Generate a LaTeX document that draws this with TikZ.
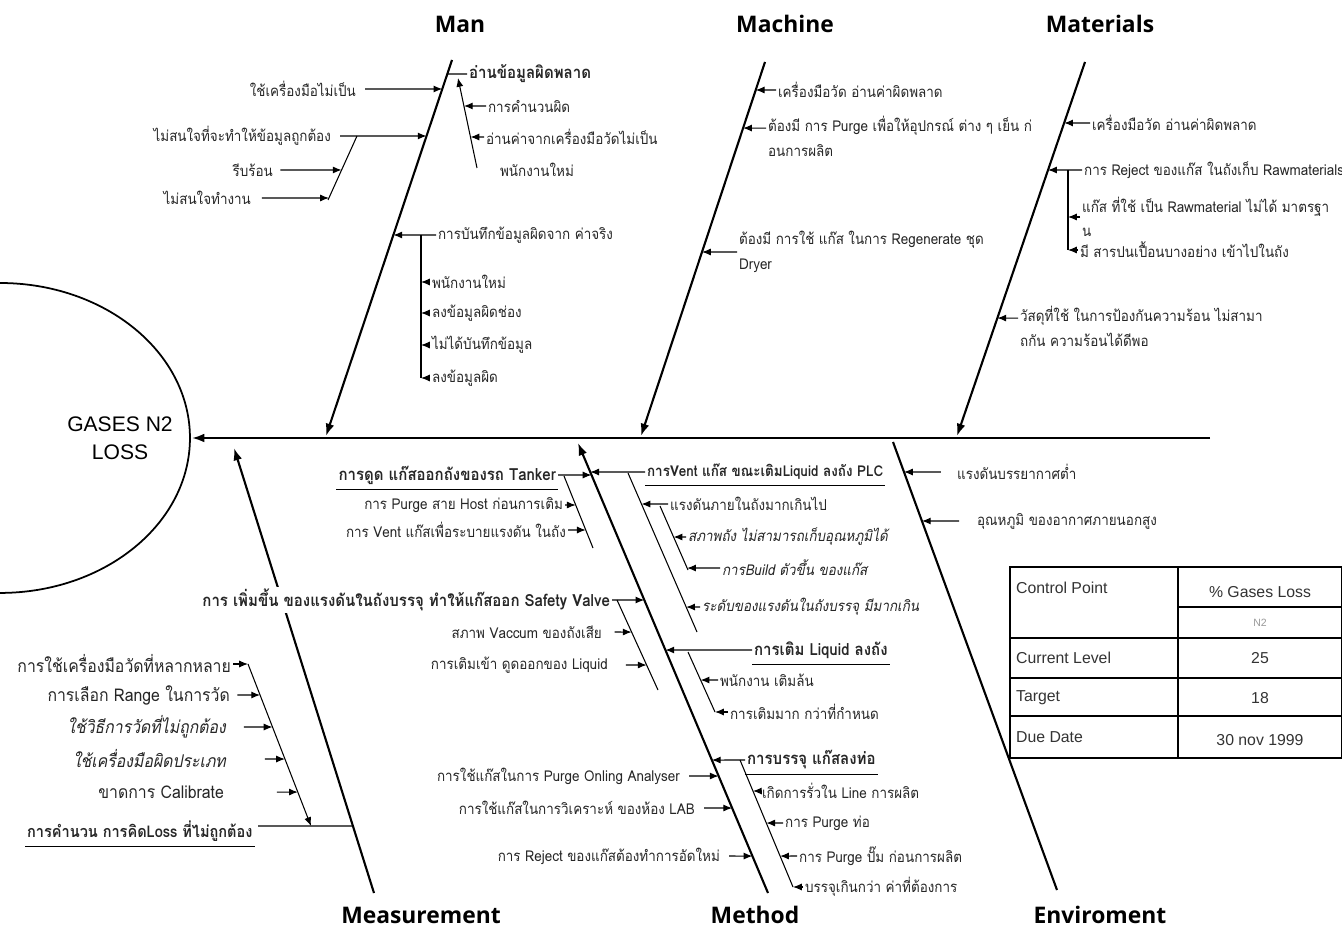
\documentclass[tikz,border=0pt]{standalone}
\usepackage{fontspec}
\setmainfont[Script=Thai,FakeStretch=0.9]{Loma}
\newfontfamily\titlefont{Open Sans}
\newfontfamily\arialfont{Liberation Sans}
\usetikzlibrary{arrows.meta}

\begin{document}
\begin{tikzpicture}[x=0.02cm, y=-0.02cm,
  cause/.style={font=\fontsize{8.5}{14}\selectfont, inner sep=1pt, text=black!85},
  bcause/.style={cause, font=\fontsize{9.5}{14}\selectfont\bfseries},
  icause/.style={cause, font=\fontsize{8.5}{14}\selectfont\itshape},
  mcause/.style={cause, font=\fontsize{10}{14}\selectfont},
  imcause/.style={cause, font=\fontsize{10}{14}\selectfont\itshape},
  bone/.style={line width=1.2pt},
  bonearr/.style={bone, -{Latex[length=7pt,width=5pt]}},
  twig/.style={line width=0.6pt},
  arr/.style={twig, -{Latex[length=5pt,width=4pt]}},
  bonetitle/.style={font=\titlefont\fontsize{13}{15}\selectfont\bfseries},
  cell/.style={font=\arialfont\fontsize{9}{11}\selectfont, text=black!80, inner sep=1pt}]

\useasboundingbox (0,0) rectangle (1342,928);

% Head
\draw[line width=1pt] (0,283) arc[start angle=90, end angle=-90, x radius=3.8cm, y radius=3.1cm];
\node[font=\arialfont\fontsize{12}{16}\selectfont, align=center] (effect) at (120,438) {GASES N2\\LOSS};

% Spine
\coordinate (tail) at (1210,438);
\coordinate (head) at (192,438);
\draw[bonearr] (tail) -- (head);

% Titles
\node[bonetitle] (man) at (460,24) {Man};
\node[bonetitle] (machine) at (785,24) {Machine};
\node[bonetitle] (materials) at (1100,24) {Materials};
\node[bonetitle] (measurement) at (421,915) {Measurement};
\node[bonetitle] (method) at (755,915) {Method};
\node[bonetitle] (enviroment) at (1100,915) {Enviroment};

% Man bone
\coordinate (manT) at (452,60);
\coordinate (manB) at (326,436);
\draw[bonearr] (manT) -- (manB);

\node[cause, anchor=east] (m1) at (358,89) {ใช้เครื่องมือไม่เป็น};
\draw[arr, shorten <=4pt] (m1.east) -- (intersection of manT--manB and m1.east--m1.west);
\node[cause, anchor=east] (m2) at (333,136) {ไม่สนใจที่จะทำให้ข้อมูลถูกต้อง};
\draw[arr, shorten <=4pt] (m2.east) -- (intersection of manT--manB and m2.east--m2.west);
\coordinate (m2T) at (357,136);
\coordinate (m2B) at (328,200);
\draw[twig] (m2T) -- (m2B);
\node[cause, anchor=east] (m3) at (275,170) {รีบร้อน};
\draw[arr, shorten <=3pt] (m3.east) -- (intersection of m2T--m2B and m3.east--m3.west);
\node[cause, anchor=east] (m4) at (253,198) {ไม่สนใจทำงาน};
\draw[arr, shorten <=5pt] (m4.east) -- (intersection of m2T--m2B and m4.east--m4.west);

\node[bcause, anchor=west] (m5) at (467,74) {อ่านข้อมูลผิดพลาด};
\draw[twig] (intersection of manT--manB and m5.west--m5.east) -- (m5.west);
\coordinate (m5T) at (458,78);
\coordinate (m5B) at (477,168);
\draw[arr] (m5B) -- (m5T);
\node[cause, anchor=west] (m6) at (486,106) {การคำนวนผิด};
\draw[arr] (m6.west) -- (intersection of m5T--m5B and m6.west--m6.east);
\node[cause, anchor=west] (m7) at (484,137) {อ่านค่าจากเครื่องมือวัดไม่เป็น};
\draw[arr] (m7.west) -- (intersection of m5T--m5B and m7.west--m7.east);
\node[cause, anchor=west] (m8) at (498,170) {พนักงานใหม่};

\node[cause, anchor=west] (m9) at (436,235) {การบันทึกข้อมูลผิดจาก ค่าจริง};
\draw[arr] (m9.west) -- (intersection of manT--manB and m9.west--m9.east);
\coordinate (m9T) at (421,235);
\coordinate (m9B) at (421,378);
\draw[twig] (m9T) -- (m9B);
\node[cause, anchor=west] (m10) at (430,282) {พนักงานใหม่};
\node[cause, anchor=west] (m11) at (430,313) {ลงข้อมูลผิดช่อง};
\node[cause, anchor=west] (m12) at (430,345) {ไม่ได้บันทึกข้อมูล};
\node[cause, anchor=west] (m13) at (430,378) {ลงข้อมูลผิด};
\foreach \c in {m10,m11,m12,m13}
  \draw[arr] (\c.west) -- (\c.west -| m9T);

% Machine bone
\coordinate (macT) at (765,62);
\coordinate (macB) at (641,436);
\draw[bonearr] (macT) -- (macB);

\node[cause, anchor=west] (c1) at (776,90) {เครื่องมือวัด อ่านค่าผิดพลาด};
\draw[arr] (c1.west) -- (intersection of macT--macB and c1.west--c1.east);
\node[cause, anchor=north west, align=left] (c2) at (766,114) {ต้องมี การ Purge เพื่อให้อุปกรณ์ ต่าง ๆ เย็น ก่\\อนการผลิต};
\coordinate (c2a) at ([yshift=-8pt]c2.north west);
\coordinate (c2b) at ([yshift=-8pt]c2.north east);
\draw[arr] (c2a) -- (intersection of macT--macB and c2a--c2b);
\node[cause, anchor=west, align=left] (c3) at (737,252) {ต้องมี การใช้ แก๊ส ในการ Regenerate ชุด\\Dryer};
\draw[arr] (c3.west) -- (intersection of macT--macB and c3.west--c3.east);

% Materials bone
\coordinate (matT) at (1085,62);
\coordinate (matB) at (957,436);
\draw[bonearr] (matT) -- (matB);

\node[cause, anchor=west] (t1) at (1090,123) {เครื่องมือวัด อ่านค่าผิดพลาด};
\draw[arr] (t1.west) -- (intersection of matT--matB and t1.west--t1.east);
\node[cause, anchor=west] (t2) at (1082,170) {การ Reject ของแก๊ส ในถังเก็บ Rawmaterials};
\draw[arr] (t2.west) -- (intersection of matT--matB and t2.west--t2.east);
\coordinate (t2T) at (1068,170);
\coordinate (t2B) at (1068,250);
\draw[twig] (t2T) -- (t2B);
\node[cause, anchor=west, align=left] (t3) at (1080,217) {แก๊ส ที่ใช้ เป็น Rawmaterial ไม่ได้ มาตรฐา\\น};
\node[cause, anchor=west] (t4) at (1078,250) {มี สารปนเปื้อนบางอย่าง เข้าไปในถัง};
\foreach \c in {t3,t4}
  \draw[arr] (\c.west) -- (\c.west -| t2T);
\node[cause, anchor=north west, align=left] (t5) at (1018,304) {วัสดุที่ใช้ ในการป้องกันความร้อน ไม่สามา\\ถกัน ความร้อนได้ดีพอ};
\coordinate (t5a) at ([yshift=-8pt]t5.north west);
\coordinate (t5b) at ([yshift=-8pt]t5.north east);
\draw[arr] (t5a) -- (intersection of matT--matB and t5a--t5b);

% Measurement bone
\coordinate (measT) at (234,448);
\coordinate (measB) at (374,893);
\draw[bonearr] (measB) -- (measT);

\coordinate (sTop) at (248,664);
\coordinate (sBot) at (311,826);
\draw[arr] (sTop) -- (sBot);
\node[mcause, anchor=east] (s1) at (233,664) {การใช้เครื่องมือวัดที่หลากหลาย};
\draw[arr] (s1.east) -- (sTop);
\node[mcause, anchor=east] (s2) at (232,695) {การเลือก Range ในการวัด};
\draw[arr, shorten <=3pt] (s2.east) -- (intersection of sTop--sBot and s2.east--s2.west);
\node[imcause, anchor=east] (s3) at (228,727) {ใช้วิธีการวัดที่ไม่ถูกต้อง};
\draw[arr, shorten <=9pt] (s3.east) -- (intersection of sTop--sBot and s3.east--s3.west);
\node[imcause, anchor=east] (s4) at (228,759) {ใช้เครื่องมือผิดประเภท};
\draw[arr, shorten <=21pt] (s4.east) -- (intersection of sTop--sBot and s4.east--s4.west);
\node[mcause, anchor=east] (s5) at (226,792) {ขาดการ Calibrate};
\draw[arr, shorten <=29pt] (s5.east) -- (intersection of sTop--sBot and s5.east--s5.west);
\node[bcause, font=\fontsize{9.2}{14}\selectfont\bfseries, anchor=west] (s6) at (25,831) {การคำนวน การคิดLoss ที่ไม่ถูกต้อง};
\draw[twig] ([yshift=-2pt]s6.south west) -- ([yshift=-2pt]s6.south east);
\coordinate (sH) at (258,826);
\draw[twig] (sH) -- (intersection of measT--measB and sH--sBot);

% Method bone
\coordinate (methT) at (578,443);
\coordinate (methB) at (768,893);
\draw[bonearr] (methB) -- (methT);

\node[bcause, anchor=east] (d1) at (558,475) {การดูด แก๊สออกถังของรถ Tanker};
\draw[twig] ([yshift=-2pt]d1.south west) -- ([yshift=-2pt]d1.south east);
\draw[arr] (d1.east) -- (intersection of methT--methB and d1.east--d1.west);
\coordinate (d1T) at (564,476);
\coordinate (d1B) at (593,548);
\draw[twig] (d1T) -- (d1B);
\node[cause, anchor=east] (d2) at (565,505) {การ Purge สาย Host ก่อนการเติม};
\draw[arr] (d2.east) -- (intersection of d1T--d1B and d2.east--d2.west);
\node[cause, anchor=east] (d3) at (568,530) {การ Vent แก๊สเพื่อระบายแรงดัน ในถัง};
\draw[arr] (d3.east) -- (intersection of d1T--d1B and d3.east--d3.west);

\node[bcause, fill=white, anchor=east] (d4) at (612,600) {การ เพิ่มขึ้น ของแรงดันในถังบรรจุ ทำให้แก๊สออก Safety Valve};
\draw[arr] (d4.east) -- (intersection of methT--methB and d4.east--d4.west);
\coordinate (d4T) at (617,600);
\coordinate (d4B) at (658,690);
\draw[twig] (d4T) -- (d4B);
\node[cause, anchor=east] (d5) at (604,632) {สภาพ Vaccum ของถังเสีย};
\draw[arr, shorten <=6pt] (d5.east) -- (intersection of d4T--d4B and d5.east--d5.west);
\node[cause, anchor=east] (d6) at (610,665) {การเติมเข้า ดูดออกของ Liquid};
\draw[arr, shorten <=9pt] (d6.east) -- (intersection of d4T--d4B and d6.east--d6.west);

\node[bcause, font=\fontsize{8.5}{14}\selectfont\bfseries, anchor=west] (d7) at (645,472) {การVent แก๊ส ขณะเติมLiquid ลงถัง PLC};
\draw[twig] ([yshift=-2pt]d7.south west) -- ([yshift=-2pt]d7.south east);
\draw[arr] (d7.west) -- (intersection of methT--methB and d7.west--d7.east);
\coordinate (d7T) at (628,473);
\coordinate (d7B) at (697,632);
\draw[twig] (d7T) -- (d7B);
\node[cause, anchor=west] (d8) at (668,504) {แรงดันภายในถังมากเกินไป};
\draw[arr] (d8.west) -- (intersection of d7T--d7B and d8.west--d8.east);
\coordinate (d8T) at (660,506);
\coordinate (d8B) at (688,570);
\draw[twig] (d8T) -- (d8B);
\node[icause, anchor=west] (d9) at (686,537) {สภาพถัง ไม่สามารถเก็บอุณหภูมิได้};
\draw[arr] (d9.west) -- (intersection of d8T--d8B and d9.west--d9.east);
\node[icause, anchor=west] (d10) at (720,568) {การBuild ตัวขึ้น ของแก๊ส};
\draw[arr] (d10.west) -- (intersection of d8T--d8B and d10.west--d10.east);
\node[icause, anchor=west] (d11) at (700,607) {ระดับของแรงดันในถังบรรจุ มีมากเกิน};
\draw[arr] (d11.west) -- (intersection of d7T--d7B and d11.west--d11.east);

\node[bcause, anchor=west] (d12) at (752,650) {การเติม Liquid ลงถัง};
\draw[twig] ([yshift=-2pt]d12.south west) -- ([yshift=-2pt]d12.south east);
\draw[arr] (d12.west) -- (intersection of methT--methB and d12.west--d12.east);
\coordinate (d12T) at (688,652);
\coordinate (d12B) at (715,712);
\draw[twig] (d12T) -- (d12B);
\node[cause, anchor=west] (d13) at (718,680) {พนักงาน เติมล้น};
\draw[arr] (d13.west) -- (intersection of d12T--d12B and d13.west--d13.east);
\node[cause, anchor=west] (d14) at (728,712) {การเติมมาก กว่าที่กำหนด};
\draw[arr] (d14.west) -- (d12B);

\node[bcause, anchor=west] (d15) at (745,760) {การบรรจุ แก๊สลงท่อ};
\draw[twig] ([yshift=-2pt]d15.south west) -- ([yshift=-2pt]d15.south east);
\draw[arr] (d15.west) -- (intersection of methT--methB and d15.west--d15.east);
\coordinate (d15T) at (740,760);
\coordinate (d15B) at (793,887);
\draw[twig] (d15T) -- (d15B);
\node[cause, anchor=west] (d16) at (760,791) {เกิดการรั่วใน Line การผลิต};
\node[cause, anchor=west] (d17) at (783,823) {การ Purge ท่อ};
\node[cause, anchor=west] (d18) at (797,856) {การ Purge ปั๊ม ก่อนการผลิต};
\foreach \c in {d16,d17,d18}
  \draw[arr] (\c.west) -- (intersection of d15T--d15B and \c.west--\c.east);
\node[cause, anchor=west] (d19) at (803,887) {บรรจุเกินกว่า ค่าที่ต้องการ};
\draw[arr] (d19.west) -- (d15B);

\node[cause, anchor=east] (d20) at (682,776) {การใช้แก๊สในการ Purge Onling Analyser};
\node[cause, anchor=east] (d21) at (697,808) {การใช้แก๊สในการวิเคราะห์ ของห้อง LAB};
\node[cause, anchor=east] (d22) at (722,856) {การ Reject ของแก๊สต้องทำการอัดใหม่};
\foreach \c in {d20,d21,d22}
  \draw[arr, shorten <=4pt] (\c.east) -- (intersection of methT--methB and \c.east--\c.west);

% Enviroment bone
\coordinate (envT) at (893,442);
\coordinate (envB) at (1057,890);
\draw[bone] (envT) -- (envB);

\node[cause, anchor=west] (e1) at (955,472) {แรงดันบรรยากาศต่ำ};
\draw[arr, shorten <=8pt] (e1.west) -- (intersection of envT--envB and e1.west--e1.east);
\node[cause, anchor=west] (e2) at (975,521) {อุณหภูมิ ของอากาศภายนอกสูง};
\draw[arr, shorten <=9pt] (e2.west) -- (intersection of envT--envB and e2.west--e2.east);

% Control table
\fill[white] (1010,567) rectangle (1342,758);
\draw[line width=1.2pt] (1010,567) rectangle (1342,758);
\draw[twig] (1178,567) -- (1178,758);
\draw[twig] (1178,607) -- (1342,607);
\foreach \yy in {638,678,716}
  \draw[twig] (1010,\yy) -- (1342,\yy);
\node[cell, anchor=west] (cp) at (1014,588) {Control Point};
\node[cell] (gl) at (1260,592) {\% Gases Loss};
\node[cell, font=\arialfont\fontsize{6}{7}\selectfont, text=black!40] (n2) at (1260,623) {N2};
\node[cell, anchor=west] (cl) at (1014,658) {Current Level};
\node[cell] (v25) at (1260,658) {25};
\node[cell, anchor=west] (tg) at (1014,698) {Target};
\node[cell] (v18) at (1260,698) {18};
\node[cell, anchor=west] (dd) at (1014,737) {Due Date};
\node[cell] (vdate) at (1260,740) {30 nov 1999};

\end{tikzpicture}
\end{document}
